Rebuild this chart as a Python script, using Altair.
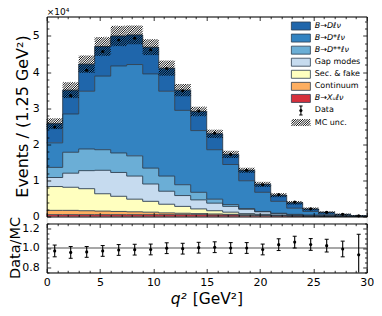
import math
import altair as alt
import pandas as pd

# ---------------- data ----------------
bin_edges = [0.0, 1.5, 3.0, 4.5, 6.0, 7.5, 9.0, 10.5, 12.0, 13.5, 15.0,
             16.5, 18.0, 19.5, 21.0, 22.5, 24.0, 25.5, 27.0, 28.5, 30.0]

# MC components, events per bin, bottom of the stack first
b_xu = [500, 500, 500, 500, 500, 500, 500, 500, 500, 500,
        400, 400, 300, 300, 200, 150, 100, 50, 30, 10]
continuum = [1200, 1200, 1100, 1000, 900, 800, 700, 500, 400, 300,
             300, 200, 200, 100, 100, 50, 50, 50, 20, 10]
sec_fake = [6600, 6400, 6100, 4800, 4200, 3500, 3000, 2400, 1900, 1300,
            900, 600, 300, 200, 100, 100, 50, 20, 10, 0]
gap_modes = [2500, 3900, 5000, 6500, 6600, 6400, 4800, 3600, 3000, 2500,
             2100, 1600, 1200, 700, 400, 200, 100, 80, 40, 20]
b_dss = [2800, 5800, 6000, 5700, 5400, 5600, 4400, 4200, 3000, 2100,
         1100, 500, 200, 100, 100, 100, 100, 50, 50, 20]
b_dstar = [6800, 10600, 16000, 20400, 24100, 25300, 26100, 23500, 20600, 17100,
           13700, 11100, 7700, 5300, 3300, 1700, 1000, 350, 150, 40]
b_d = [5300, 6600, 7500, 8200, 8300, 8200, 7400, 6400, 5600, 5300,
       4400, 2800, 2900, 2200, 1700, 1500, 700, 550, 300, 100]

mc_unc = [1500, 2200, 2400, 2600, 2800, 2600, 2200, 2100, 1700, 1300,
          1150, 1000, 700, 700, 550, 500, 400, 300, 200, 150]

data_counts = [24800, 33500, 40500, 45700, 48900, 49400, 46200, 41000, 34800, 29200,
               23100, 17200, 12800, 8800, 6100, 4000, 2100, 1150, 600, 180]

ratio_vals = [0.970, 0.955, 0.960, 0.970, 0.980, 0.983, 0.985, 0.998, 0.993, 1.003,
              1.008, 1.000, 1.000, 0.985, 1.034, 1.060, 1.036, 1.024, 0.990, 0.930]
ratio_errs = [0.060, 0.060, 0.055, 0.055, 0.055, 0.055, 0.055, 0.055, 0.055, 0.055,
              0.055, 0.055, 0.055, 0.055, 0.060, 0.060, 0.060, 0.065, 0.080, 0.210]

comp_labels = ["B→Xᵤℓν", "Continuum", "Sec. & fake", "Gap modes",
               "B→D**ℓν", "B→D*ℓν", "B→Dℓν"]
comp_colors = ["#d6303c", "#fdae61", "#ffffbf", "#c6dbef",
               "#6baed6", "#3383c1", "#1f66ab"]
extra_legend = ["Data", "MC unc."]

x_tick_values = list(range(0, 31))
main_y_tick_values = [i * 2000 for i in range(28)]
ratio_tick_values = [round(0.75 + 0.05 * i, 2) for i in range(11)]

# ---------------- layout ----------------
W, H = 320.0, 256.0
MAIN_H = 200.0
RATIO_TOP = 207.0
Y_MAX = 55400.0
R_MIN, R_MAX = 0.75, 1.25
SX = W / 30.0
SY = MAIN_H / Y_MAX
HATCH_S = 2.3
EDGE = "#2c3e50"
FONT = "DejaVu Sans"

LEG_Y0, LEG_DY = 9.5, 12.07
LEG_X2 = W - 56.3
LEG_X1 = LEG_X2 - 19.0
LEG_TX = LEG_X2 + 4.4


def hatch_segments(u0, u1, v0, v1, s):
    out = []
    for k in range(math.ceil((v0 - u1) / s), math.floor((v1 - u0) / s) + 1):
        c = k * s
        ua = max(u0, v0 - c)
        ub = min(u1, v1 - c)
        if ub - ua > 0.05:
            out.append((ua, ua + c, ub, ub + c))
    return out


# ---------------- tables ----------------
comps = [b_xu, continuum, sec_fake, gap_modes, b_dss, b_dstar, b_d]
rows = []
cum = [0.0] * 20
for name, vals in zip(comp_labels, comps):
    new = [c + v for c, v in zip(cum, vals)]
    for i, e in enumerate(bin_edges):
        j = min(i, 19)
        rows.append({"comp": name, "x": e, "bot": cum[j], "top": new[j]})
    cum = new
total = cum
area_df = pd.DataFrame(rows)

hrows = []
for i in range(20):
    u0, u1 = bin_edges[i] * SX, bin_edges[i + 1] * SX
    v0, v1 = (total[i] - mc_unc[i]) * SY, (total[i] + mc_unc[i]) * SY
    for ua, va, ub, vb in hatch_segments(u0, u1, v0, v1, HATCH_S):
        hrows.append({"x1": ua / SX, "y1": va / SY, "x2": ub / SX, "y2": vb / SY})
hatch_df = pd.DataFrame(hrows)

centers = [(bin_edges[i] + bin_edges[i + 1]) / 2 for i in range(20)]
pt_df = pd.DataFrame({"xc": centers, "data": data_counts})

ratio_df = pd.DataFrame({
    "xc": centers, "r": ratio_vals,
    "lo": [max(r - e, R_MIN) for r, e in zip(ratio_vals, ratio_errs)],
    "hi": [min(r + e, R_MAX) for r, e in zip(ratio_vals, ratio_errs)],
})
crows = []
for xc, r, e in zip(centers, ratio_vals, ratio_errs):
    for y in (r - e, r + e):
        if R_MIN <= y <= R_MAX:
            crows.append({"xc": xc, "y": y})
cap_df = pd.DataFrame(crows)

legend_order = list(reversed(comp_labels))
sw_df = pd.DataFrame([{"comp": n, "x1": LEG_X1, "x2": LEG_X2,
                       "y1": LEG_Y0 + i * LEG_DY - 4, "y2": LEG_Y0 + i * LEG_DY + 4}
                      for i, n in enumerate(legend_order)])
all_leg = legend_order + extra_legend
lt_df = pd.DataFrame([{"label": n, "x": LEG_TX, "y": LEG_Y0 + i * LEG_DY,
                       "math": n.startswith("B→")} for i, n in enumerate(all_leg)])
yd = LEG_Y0 + 7 * LEG_DY
xm = (LEG_X1 + LEG_X2) / 2
ld_df = pd.DataFrame({"x": [xm], "y": [yd], "y1": [yd - 4.5], "y2": [yd + 4.5]})
ldc_df = pd.DataFrame({"x": [xm, xm], "y": [yd - 4.5, yd + 4.5]})
yh = LEG_Y0 + 8 * LEG_DY
lh_rows = []
for ua, va, ub, vb in hatch_segments(LEG_X1, LEG_X2, -(yh + 3.5), -(yh - 3.5), HATCH_S):
    lh_rows.append({"x1": ua, "y1": -va, "x2": ub, "y2": -vb})
lh_df = pd.DataFrame(lh_rows)

# ---------------- scales & axes ----------------
def xs():
    return alt.Scale(domain=[0, 30], range=[0, W], nice=False, zero=False)


ys_main = alt.Scale(domain=[0, Y_MAX], range=[MAIN_H, 0], nice=False, zero=False)
ys_ratio = alt.Scale(domain=[R_MIN, R_MAX], range=[H, RATIO_TOP], nice=False, zero=False)
PXX = alt.Scale(domain=[0, W], range=[0, W], nice=False, zero=False)
PXY = alt.Scale(domain=[0, H], range=[0, H], nice=False, zero=False)

X_TEST = "datum.value % 5 === 0"
Y_TEST = "datum.value % 10000 === 0"
R_TEST = "abs(datum.value * 5 - round(datum.value * 5)) < 0.001"


def tsize(test):
    return {"condition": {"test": test, "value": -4.0}, "value": -2.2}


base_ax = dict(grid=False, title=None, domainColor="black", domainWidth=1.0,
               tickColor="black", tickWidth=0.8, labelColor="black", labelFont=FONT,
               labelFontSize=11, zindex=1, labelFlush=False, labelOverlap=False)

ax_main_left = alt.Axis(orient="left", values=main_y_tick_values, tickSize=tsize(Y_TEST),
                        labelExpr=f"{Y_TEST} ? format(datum.value / 10000, 'd') : ''",
                        labelPadding=11.5, **base_ax)
ax_main_right = alt.Axis(orient="right", values=main_y_tick_values, tickSize=tsize(Y_TEST),
                         labels=False, **base_ax)
ax_main_top = alt.Axis(orient="top", values=x_tick_values, tickSize=tsize(X_TEST),
                       labels=False, **base_ax)
ax_main_bottom = alt.Axis(orient="bottom", values=x_tick_values, tickSize=tsize(X_TEST),
                          labels=False, offset=-(H - MAIN_H), **base_ax)
ax_ratio_top = alt.Axis(orient="top", values=x_tick_values, tickSize=tsize(X_TEST),
                        labels=False, offset=-RATIO_TOP, **base_ax)
ax_ratio_bottom = alt.Axis(orient="bottom", values=x_tick_values, tickSize=tsize(X_TEST),
                           labelExpr=f"{X_TEST} ? format(datum.value, 'd') : ''",
                           labelPadding=8.5, **base_ax)
ax_ratio_left = alt.Axis(orient="left", values=ratio_tick_values, tickSize=tsize(R_TEST),
                         labelExpr=f"{R_TEST} ? format(datum.value, '.1f') : ''",
                         labelPadding=11.5, **base_ax)
ax_ratio_right = alt.Axis(orient="right", values=ratio_tick_values, tickSize=tsize(R_TEST),
                          labels=False, **base_ax)

comp_scale = alt.Scale(domain=comp_labels, range=comp_colors)

# ---------------- layers ----------------
areas = alt.Chart(area_df).mark_area(interpolate="step-after").encode(
    x=alt.X("x:Q", scale=xs(), axis=ax_main_top),
    y=alt.Y("top:Q", scale=ys_main, stack=None, axis=ax_main_left),
    y2="bot:Q",
    color=alt.Color("comp:N", scale=comp_scale, legend=None),
)
outlines = alt.Chart(area_df).mark_line(interpolate="step-after", color=EDGE,
                                        strokeWidth=0.9).encode(
    x=alt.X("x:Q", scale=xs(), axis=None),
    y=alt.Y("top:Q", scale=ys_main, axis=None),
    detail="comp:N",
)
hatch = alt.Chart(hatch_df).mark_rule(color="#000000", strokeWidth=0.95).encode(
    x=alt.X("x1:Q", scale=xs(), axis=ax_main_bottom), x2="x2:Q",
    y=alt.Y("y1:Q", scale=ys_main, axis=ax_main_right), y2="y2:Q",
)
pts = alt.Chart(pt_df).mark_circle(size=10, color="black", opacity=1).encode(
    x=alt.X("xc:Q", scale=xs(), axis=None),
    y=alt.Y("data:Q", scale=ys_main, axis=None),
)

unity = alt.Chart(pd.DataFrame({"r": [1.0]})).mark_rule(color="#8a8a8a", strokeWidth=1.5).encode(
    y=alt.Y("r:Q", scale=ys_ratio, axis=None))
rerr = alt.Chart(ratio_df).mark_rule(color="black", strokeWidth=1.1).encode(
    x=alt.X("xc:Q", scale=xs(), axis=ax_ratio_top),
    y=alt.Y("lo:Q", scale=ys_ratio, axis=ax_ratio_right), y2="hi:Q")
caps = alt.Chart(cap_df).mark_point(shape="M-1,0L1,0", size=16, filled=False, color="black",
                                    strokeWidth=1.0, opacity=1).encode(
    x=alt.X("xc:Q", scale=xs(), axis=None),
    y=alt.Y("y:Q", scale=ys_ratio, axis=None))
rpts = alt.Chart(ratio_df).mark_circle(size=10, color="black", opacity=1).encode(
    x=alt.X("xc:Q", scale=xs(), axis=ax_ratio_bottom),
    y=alt.Y("r:Q", scale=ys_ratio, axis=ax_ratio_left))

# legend
sw = alt.Chart(sw_df).mark_rect(stroke=EDGE, strokeWidth=0.8).encode(
    x=alt.X("x1:Q", scale=PXX, axis=None), x2="x2:Q",
    y=alt.Y("y1:Q", scale=PXY, axis=None), y2="y2:Q",
    color=alt.Color("comp:N", scale=comp_scale, legend=None))
lt_math = alt.Chart(lt_df).transform_filter("datum.math").mark_text(
    align="left", baseline="middle", fontSize=8, fontStyle="italic", font=FONT, color="black").encode(
    x=alt.X("x:Q", scale=PXX, axis=None), y=alt.Y("y:Q", scale=PXY, axis=None), text="label:N")
lt_plain = alt.Chart(lt_df).transform_filter("!datum.math").mark_text(
    align="left", baseline="middle", fontSize=8, font=FONT, color="black").encode(
    x=alt.X("x:Q", scale=PXX, axis=None), y=alt.Y("y:Q", scale=PXY, axis=None), text="label:N")
ld_bar = alt.Chart(ld_df).mark_rule(color="black", strokeWidth=1.1).encode(
    x=alt.X("x:Q", scale=PXX, axis=None),
    y=alt.Y("y1:Q", scale=PXY, axis=None), y2="y2:Q")
ld_caps = alt.Chart(ldc_df).mark_point(shape="M-1,0L1,0", size=12, filled=False, color="black",
                                       strokeWidth=1.0, opacity=1).encode(
    x=alt.X("x:Q", scale=PXX, axis=None), y=alt.Y("y:Q", scale=PXY, axis=None))
ld_dot = alt.Chart(ld_df).mark_circle(size=10, color="black", opacity=1).encode(
    x=alt.X("x:Q", scale=PXX, axis=None), y=alt.Y("y:Q", scale=PXY, axis=None))
lh = alt.Chart(lh_df).mark_rule(color="#000000", strokeWidth=0.95).encode(
    x=alt.X("x1:Q", scale=PXX, axis=None), x2="x2:Q",
    y=alt.Y("y1:Q", scale=PXY, axis=None), y2="y2:Q")

# titles
def label(text, x, y, **kw):
    return alt.Chart(pd.DataFrame({"t": [text]})).mark_text(font=FONT, color="black", **kw).encode(
        text="t:N", x=alt.value(x), y=alt.value(y))


ytitle = label("Events / (1.25 GeV²)", -23.7, 100, angle=270, fontSize=16,
               align="center", baseline="middle")
rtitle = label("Data/MC", -26.5, (RATIO_TOP + H) / 2, angle=270, fontSize=14.5,
               align="center", baseline="alphabetic")
offset_txt = label("×10⁴", 0, -1.5, fontSize=9, align="left", baseline="alphabetic")
xt_q = label("q²", W / 2 - 20.0, 287.5, fontSize=15.5, fontStyle="italic", align="right",
             baseline="alphabetic")
xt_rest = label("[GeV²]", W / 2 - 14.0, 287.5, fontSize=15.5, align="left",
                baseline="alphabetic")

chart = alt.layer(
    areas, outlines, hatch, pts,
    unity, rerr, caps, rpts,
    sw, lt_math, lt_plain, ld_bar, ld_caps, ld_dot, lh,
    ytitle, rtitle, offset_txt, xt_q, xt_rest,
).resolve_scale(
    x="independent", y="independent", color="independent"
).properties(
    width=W, height=H,
    autosize=alt.AutoSizeParams(type="none"),
    padding={"left": 38.7, "top": 8.5, "right": 7.0, "bottom": 35.5},
).configure_view(stroke=None).configure(font=FONT)

chart.save("out.html", embed_options={"renderer": "svg", "actions": False})
